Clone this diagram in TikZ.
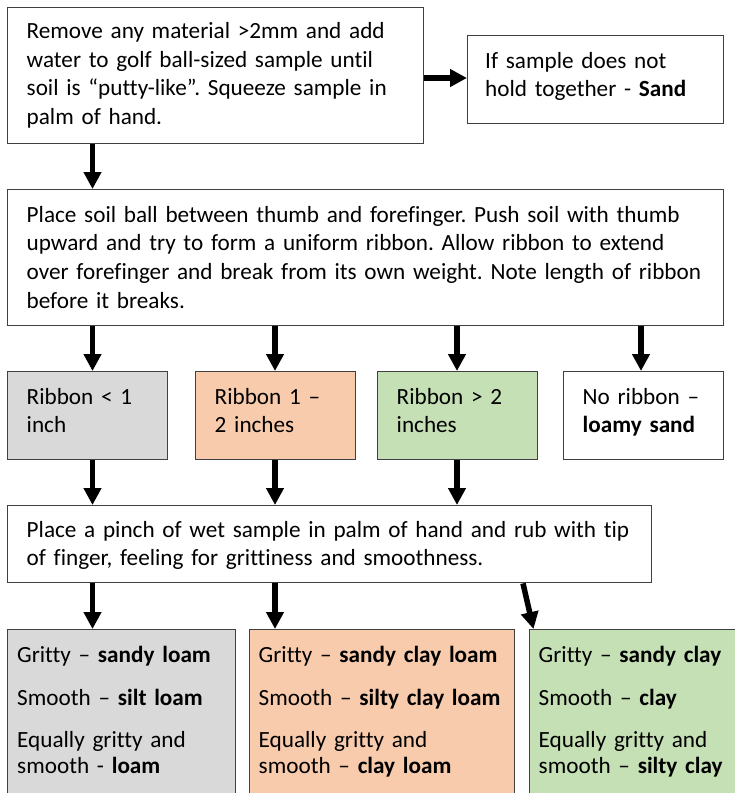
\documentclass[tikz,border=0pt]{standalone}
\usepackage{fontspec}
\setmainfont[Ligatures=NoCommon]{Carlito}
\usetikzlibrary{arrows.meta}
\definecolor{boxgray}{HTML}{D9D9D9}
\definecolor{boxorange}{HTML}{F8CBAD}
\definecolor{boxgreen}{HTML}{C5E0B4}
\definecolor{edge}{HTML}{404040}
\frenchspacing
\tikzset{
  box/.style={draw=edge, line width=1.4pt, rectangle, inner sep=0pt, anchor=north west},
  txt/.style={inner sep=0pt, anchor=base west, align=left, text width=#1,
    font=\fontsize{23.2}{28.7}\selectfont},
  txt/.default=700pt,
  txtb/.style={inner sep=0pt, anchor=base west, align=left, text width=250pt,
    font=\fontsize{23.2}{26.7}\selectfont},
  arr/.style={line width=5.5pt, -{Triangle[width=17pt,length=17pt]}},
}
\begin{document}
\begin{tikzpicture}[x=1pt,y=-1pt]
\useasboundingbox (0,0) rectangle (735,793);
% boxes
\node[box, minimum width=416, minimum height=136] (A) at (7,7) {};
\node[box, minimum width=256, minimum height=88] (B) at (467,35) {};
\node[box, minimum width=716, minimum height=136] (C) at (7,189) {};
\node[box, fill=boxgray, minimum width=160, minimum height=88] (R1) at (7,371) {};
\node[box, fill=boxorange, minimum width=160, minimum height=88] (R2) at (195,371) {};
\node[box, fill=boxgreen, minimum width=160, minimum height=88] (R3) at (377,371) {};
\node[box, minimum width=160, minimum height=88] (R4) at (563,371) {};
\node[box, minimum width=644, minimum height=77] (D) at (7,505) {};
\node[box, fill=boxgray, minimum width=228, minimum height=180] (E1) at (7,629) {};
\node[box, fill=boxorange, minimum width=265, minimum height=180] (E2) at (249,629) {};
\node[box, fill=boxgreen, minimum width=220, minimum height=180] (E3) at (529,629) {};
% texts
\node[txt=400pt] (tA) at (26.5,38.3) {Remove any material >2mm and add\\water to golf ball-sized sample until\\soil is “putty-like”. Squeeze sample in\\palm of hand.};
\node[txt=240pt] (tB) at (485,68) {If sample does not\\hold together - \textbf{Sand}};
\node[txt=700pt] (tC) at (26.5,222) {Place soil ball between thumb and forefinger. Push soil with thumb\\upward and try to form a uniform ribbon. Allow ribbon to extend\\over forefinger and break from its own weight. Note length of ribbon\\before it breaks.};
\node[txt=150pt] (tR1) at (26.5,404) {Ribbon < 1\\inch};
\node[txt=150pt] (tR2) at (214.5,404) {Ribbon 1 –\\2 inches};
\node[txt=150pt] (tR3) at (396.5,404) {Ribbon > 2\\inches};
\node[txt=150pt] (tR4) at (582.5,404) {No ribbon –\\\textbf{loamy sand}};
\node[txt=630pt] (tD) at (26.5,537) {Place a pinch of wet sample in palm of hand and rub with tip\\of finger, feeling for grittiness and smoothness.};
\node[txtb] (tE1a) at (17,662) {Gritty – \textbf{sandy loam}};
\node[txtb] (tE1b) at (17,705) {Smooth – \textbf{silt loam}};
\node[txtb] (tE1c) at (17,747) {Equally gritty and\\smooth - \textbf{loam}};
\node[txtb] (tE2a) at (258.5,662) {Gritty – \textbf{sandy clay loam}};
\node[txtb] (tE2b) at (258.5,705) {Smooth – \textbf{silty clay loam}};
\node[txtb] (tE2c) at (258.5,747) {Equally gritty and\\smooth – \textbf{clay loam}};
\node[txtb] (tE3a) at (538.5,662) {Gritty – \textbf{sandy clay}};
\node[txtb] (tE3b) at (538.5,705) {Smooth – \textbf{clay}};
\node[txtb] (tE3c) at (538.5,747) {Equally gritty and\\smooth – \textbf{silty clay}};
% connector columns
\coordinate (x1) at (92.5,0);
\coordinate (x2) at (275,0);
\coordinate (x3) at (457,0);
\coordinate (x4) at (641,0);
\coordinate (yB) at (0,78);
\coordinate (s1) at (523,583);
\coordinate (s2) at (533.5,629);
% connectors
\draw[arr] (A.east |- yB) -- (B.west |- yB);
\draw[arr] (A.south -| x1) -- (C.north -| x1);
\draw[arr] (C.south -| x1) -- (R1.north -| x1);
\draw[arr] (C.south -| x2) -- (R2.north -| x2);
\draw[arr] (C.south -| x3) -- (R3.north -| x3);
\draw[arr] (C.south -| x4) -- (R4.north -| x4);
\draw[arr] (R1.south -| x1) -- (D.north -| x1);
\draw[arr] (R2.south -| x2) -- (D.north -| x2);
\draw[arr] (R3.south -| x3) -- (D.north -| x3);
\draw[arr] (D.south -| x1) -- (E1.north -| x1);
\draw[arr] (D.south -| x2) -- (E2.north -| x2);
\draw[arr] (D.south -| s1) -- (E3.north -| s2);
\end{tikzpicture}
\end{document}
